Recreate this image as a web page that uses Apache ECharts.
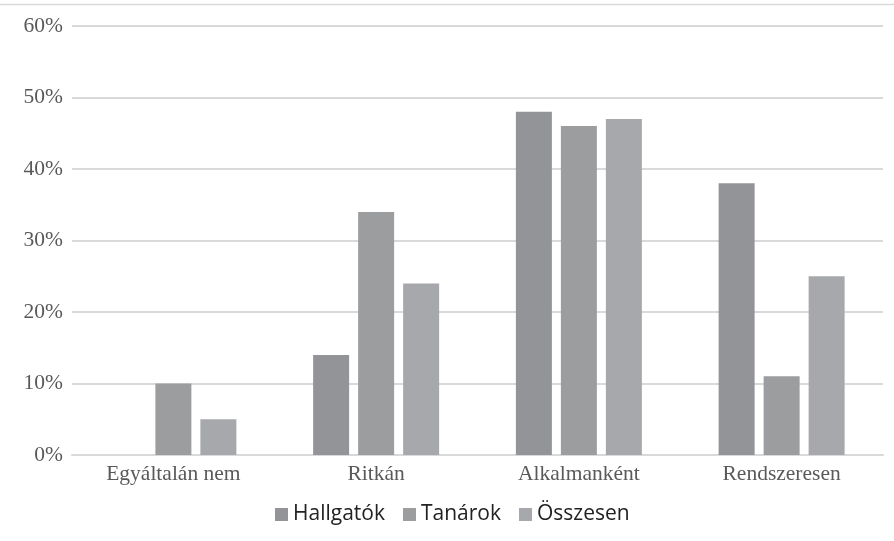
<!DOCTYPE html>
<html>
<head>
<meta charset="utf-8">
<script src="https://cdn.jsdelivr.net/npm/echarts@6/dist/echarts.min.js"></script>
<style>
html, body { margin: 0; padding: 0; background: #fff; }
#mainChart { width: 894px; height: 541px; }
</style>
</head>
<body>
<div id="mainChart"></div>
<script>
var categories = ['Egyáltalán nem', 'Ritkán', 'Alkalmanként', 'Rendszeresen'];
var hallgatok = [0, 14, 48, 38];
var tanarok = [10, 34, 46, 11];
var osszesen = [5, 24, 47, 25];
var seriesNames = ['Hallgatók', 'Tanárok', 'Összesen'];
var colors = ['#939498', '#9c9d9f', '#a7a8ab'];

var chart = echarts.init(document.getElementById('mainChart'));

var option = {
    animation: false,
    backgroundColor: '#ffffff',
    graphic: [{
        type: 'line',
        shape: { x1: 0, y1: 4.5, x2: 894, y2: 4.5 },
        style: { stroke: '#d9d9d9', lineWidth: 1.5 }
    }],
    legend: {
        data: seriesNames,
        bottom: 11,
        left: 270,
        itemWidth: 13,
        itemHeight: 13,
        itemGap: 18,
        icon: 'rect',
        textStyle: { fontFamily: 'Open Sans', fontSize: 21, color: '#222222' }
    },
    grid: { left: 72, right: 11, top: 26, bottom: 86 },
    xAxis: {
        type: 'category',
        data: categories,
        axisLine: { lineStyle: { color: '#d9d9d9', width: 2 } },
        axisTick: { show: false },
        axisLabel: { fontFamily: 'Liberation Serif', fontSize: 21.5, color: '#595959', margin: 8 }
    },
    yAxis: {
        type: 'value',
        min: 0,
        max: 60,
        interval: 10,
        axisLine: { show: false },
        axisTick: { show: false },
        splitLine: { lineStyle: { color: '#d9d9d9', width: 2 } },
        axisLabel: { fontFamily: 'Liberation Serif', fontSize: 21.5, color: '#595959', margin: 9, formatter: '{value}%' }
    },
    series: [
        { name: seriesNames[0], type: 'bar', data: hallgatok, barWidth: 36, barGap: '25%', itemStyle: { color: colors[0] } },
        { name: seriesNames[1], type: 'bar', data: tanarok, barWidth: 36, barGap: '25%', itemStyle: { color: colors[1] } },
        { name: seriesNames[2], type: 'bar', data: osszesen, barWidth: 36, barGap: '25%', itemStyle: { color: colors[2] } }
    ]
};

chart.setOption(option);
</script>
</body>
</html>
